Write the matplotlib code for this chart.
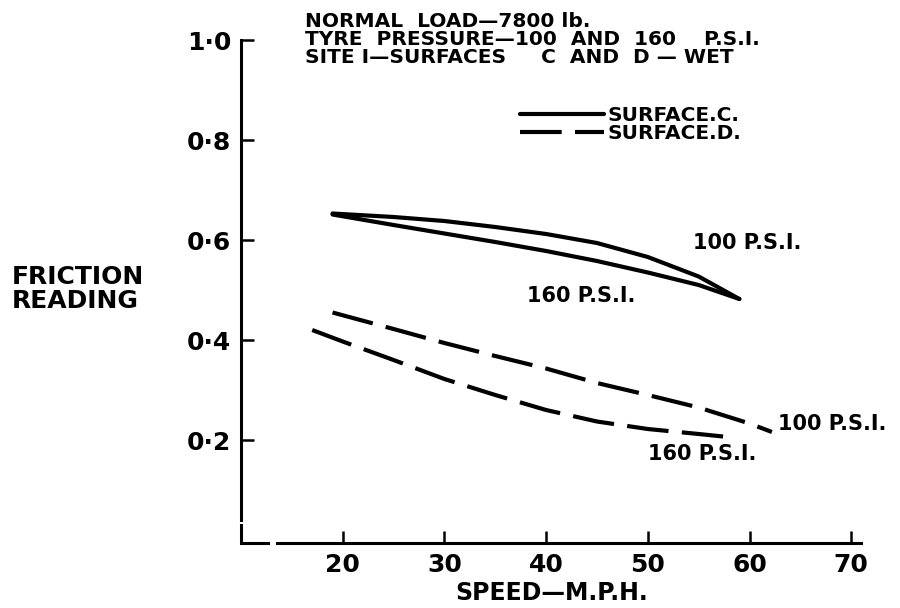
"""Friction reading vs speed, surfaces C and D wet (redrawn figure)."""
import matplotlib
matplotlib.use("Agg")
import matplotlib.pyplot as plt

plt.rcParams["font.family"] = ["DejaVu Sans"]
plt.rcParams["font.weight"] = "bold"
plt.rcParams["axes.labelweight"] = "bold"

# Surface C (solid), two tyre pressures
speed_c100 = [19, 25, 30, 35, 40, 45, 50, 55, 59]
fric_c100 = [0.653, 0.646, 0.638, 0.626, 0.612, 0.594, 0.566, 0.527, 0.482]
speed_c160 = [19, 25, 30, 35, 40, 45, 50, 55, 59]
fric_c160 = [0.651, 0.630, 0.613, 0.596, 0.578, 0.558, 0.535, 0.510, 0.482]

# Surface D (dashed), two tyre pressures
speed_d100 = [19, 25, 30, 35, 40, 45, 50, 55, 60, 62.2]
fric_d100 = [0.455, 0.422, 0.394, 0.368, 0.343, 0.314, 0.290, 0.265, 0.233, 0.216]
speed_d160 = [17, 20, 25, 30, 35, 40, 45, 50, 55, 57.4]
fric_d160 = [0.420, 0.397, 0.360, 0.322, 0.290, 0.260, 0.237, 0.222, 0.212, 0.207]

x_ticks = [20, 30, 40, 50, 60, 70]
y_ticks = [0.2, 0.4, 0.6, 0.8, 1.0]
y_tick_labels = ["0·2", "0·4", "0·6", "0·8", "1·0"]

header = [
    "NORMAL  LOAD—7800 lb.",
    "TYRE  PRESSURE—100  AND  160    P.S.I.",
    "SITE I—SURFACES     C  AND  D — WET",
]

LW = 3.0
DASH = (10, 3.2)

fig = plt.figure(figsize=(9, 6.08), dpi=100)
ax = fig.add_axes([0.2678, 0.1069, 0.6893, 0.8273])
ax.set_xlim(10, 71)
ax.set_ylim(-0.006, 1.0)

line_c, = ax.plot(speed_c100, fric_c100, color="black", lw=LW,
                  solid_capstyle="round")
ax.plot(speed_c160, fric_c160, color="black", lw=LW, solid_capstyle="round")
line_d, = ax.plot(speed_d100, fric_d100, color="black", lw=LW, dashes=DASH)
ax.plot(speed_d160, fric_d160, color="black", lw=LW, dashes=DASH)

# curve labels
lab = dict(fontsize=15, va="center", ha="left", clip_on=False)
ax.text(54.4, 0.594, "100 P.S.I.", **lab)
ax.text(38.1, 0.488, "160 P.S.I.", **lab)
ax.text(62.8, 0.232, "100 P.S.I.", **lab)
ax.text(50.0, 0.172, "160 P.S.I.", **lab)

# header block
for i, line in enumerate(header):
    ax.text(16.3, 1.037 - 0.036 * i, line, fontsize=14.5, va="center",
            ha="left", clip_on=False)

ax.legend([line_c, line_d], ["SURFACE.C.", "SURFACE.D."],
          loc="upper left", bbox_to_anchor=(37.4, 0.868),
          bbox_transform=ax.transData, frameon=False, fontsize=14.5,
          handlelength=4.2, handletextpad=0.15, labelspacing=-0.05,
          borderpad=0, borderaxespad=0)

# axes with small breaks near the origin
for side in ("top", "right"):
    ax.spines[side].set_visible(False)
ax.spines["left"].set_bounds(0.04, 1.0)
ax.spines["bottom"].set_bounds(13.5, 71)
for side in ("left", "bottom"):
    ax.spines[side].set_linewidth(2.2)
ax.plot([10, 10, 12.7], [0.03, -0.006, -0.006], color="black", lw=2.2,
        clip_on=False, solid_joinstyle="miter")

ax.set_xticks(x_ticks)
ax.set_yticks(y_ticks)
ax.set_yticklabels(y_tick_labels)
ax.tick_params(direction="in", length=9, width=1.8, labelsize=18, pad=7)

ax.set_xlabel("SPEED—M.P.H.", fontsize=17, labelpad=3)
fig.text(12 / 900, 1 - 289 / 608, "FRICTION\nREADING", fontsize=18,
         ha="left", va="center", linespacing=1.05)

fig.savefig("out.png", dpi=100)
